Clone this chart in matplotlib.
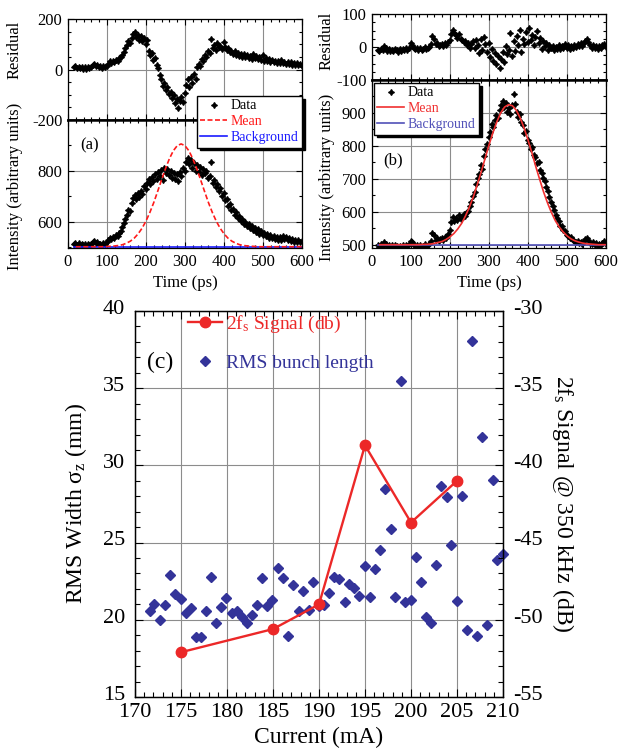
import numpy as np
import matplotlib.pyplot as plt
from matplotlib.ticker import MultipleLocator
from matplotlib.lines import Line2D
from matplotlib.transforms import ScaledTranslation

plt.rcParams['font.family'] = ['Liberation Serif', 'DejaVu Serif']
plt.rcParams['mathtext.fontset'] = 'custom'
plt.rcParams['mathtext.rm'] = 'Liberation Serif'
plt.rcParams['mathtext.default'] = 'regular'
plt.rcParams['axes.unicode_minus'] = False

# ---- streak camera profiles, panels (a) and (b) ----
t_data = np.arange(15, 600, 4)      # ps
t_mean = np.arange(20, 601, 10)     # ps

data_a = [
    512, 518, 510, 515, 509, 514, 507, 512, 506, 511,
    508, 513, 519, 523, 516, 520, 511, 514, 509, 516,
    512, 520, 527, 538, 533, 541, 536, 548, 544, 556,
    565, 579, 594, 611, 628, 646, 641, 672, 695, 706,
    690, 712, 699, 722, 708, 741, 728, 752, 769, 748,
    776, 761, 789, 770, 795, 780, 803, 766, 812, 790,
    808, 783, 799, 771, 792, 768, 786, 762, 795, 779,
    812, 798, 835, 851, 826, 842, 812, 830, 801, 822,
    796, 815, 785, 806, 790, 798, 772, 781, 836, 752,
    763, 738, 747, 720, 731, 703, 712, 684, 690, 662,
    668, 646, 652, 628, 637, 615, 624, 603, 611, 592,
    600, 584, 591, 574, 582, 566, 575, 558, 570, 552,
    563, 548, 557, 544, 553, 538, 549, 535, 546, 533,
    542, 530, 539, 528, 546, 531, 540, 527, 536, 524,
    533, 522, 530, 520, 528, 519, 524]
res_a = [
    8, 14, 6, 11, 4, 10, 3, 9, 2, 8,
    5, 11, 17, 21, 14, 18, 9, 12, 6, 13,
    9, 15, 22, 33, 27, 34, 29, 38, 33, 44,
    49, 58, 71, 86, 98, 112, 104, 126, 141, 150,
    128, 137, 118, 131, 112, 124, 101, 118, 72, 58,
    66, 38, 47, 18, 5, -22, -38, -65, -52, -80,
    -71, -96, -88, -112, -101, -133, -118, -152, -124, -109,
    -128, -92, -62, -38, -71, -29, -52, -18, -36, 8,
    22, 15, 41, 33, 58, 49, 73, 66, 122, 84,
    97, 78, 104, 89, 95, 82, 110, 91, 78, 86,
    69, 75, 61, 72, 58, 66, 54, 63, 51, 60,
    48, 57, 46, 55, 43, 62, 45, 52, 40, 49,
    38, 56, 35, 44, 32, 41, 30, 37, 28, 35,
    26, 34, 24, 38, 27, 31, 22, 30, 21, 28,
    19, 26, 18, 24, 16, 23, 14]
mean_a = [
    502, 502, 502, 502, 502, 502, 502, 502,
    503, 504, 505, 507, 510, 516, 524, 536, 553, 575,
    603, 637, 676, 720, 765, 809, 848, 879, 899, 906,
    899, 879, 848, 809, 765, 720, 676, 637, 603, 575,
    553, 536, 524, 516, 510, 507, 505, 504, 503,
    502, 502, 502, 502, 502, 502, 502, 502, 502, 502, 502, 502]
bg_a = 501

data_b = [
    498, 494, 501, 496, 507, 503, 495, 499, 493, 498,
    494, 500, 495, 492, 497, 493, 499, 494, 498, 495,
    501, 512, 508, 499, 495, 500, 494, 498, 493, 497,
    501, 496, 499, 503, 511, 537, 528, 514, 519, 510,
    516, 521, 513, 524, 519, 531, 545, 568, 584, 572,
    580, 575, 589, 578, 584, 592, 586, 598, 603, 618,
    629, 647, 660, 684, 702, 714, 741, 729, 768, 790,
    806, 828, 842, 866, 857, 879, 893, 884, 908, 925,
    937, 918, 931, 902, 914, 896, 924, 958, 927, 903,
    889, 896, 871, 862, 839, 846, 818, 809, 791, 798,
    772, 765, 748, 751, 727, 718, 704, 693, 674, 662,
    644, 631, 618, 604, 589, 580, 571, 558, 556, 545,
    541, 530, 527, 519, 523, 514, 511, 507, 512, 505,
    509, 503, 511, 517, 521, 514, 506, 502, 508, 499,
    504, 497, 503, 498, 506, 512, 501]
res_b = [
    -8, -12, -5, -9, 2, -4, -11, -7, -13, -8,
    -11, -6, -10, -14, -7, -11, -5, -9, -4, -8,
    -2, 12, 7, -3, -7, -2, -8, -4, -9, -5,
    -1, -6, -3, 1, 8, 34, 23, 8, 12, 2,
    6, 10, 3, 11, 5, 14, 22, 38, 52, 41,
    36, 28, 39, 24, 21, 14, 19, 6, 12, -2,
    9, 17, -4, 22, 5, -18, 24, -10, 31, 8,
    -14, 12, -31, -6, -42, -18, -52, -27, -63, -35,
    -15, -44, 3, -22, -8, 41, -28, 18, -12, 33,
    6, 52, -16, 25, 9, 44, 14, 58, 21, 37,
    6, 29, 48, 12, 26, -6, 18, 2, 11, -8,
    7, -3, 4, -9, 1, -5, 6, -7, 3, -4,
    8, -2, 5, -6, 4, -3, 7, -1, 9, 2,
    11, 4, 13, 18, 24, 15, 6, -2, 5, -4,
    3, -5, 2, -3, 6, 9, 1]
mean_b = [
    500, 500, 500, 500, 500, 500, 500, 500,
    500, 500, 500, 501, 501, 502, 504, 507, 510, 516,
    524, 534, 548, 565, 588, 615, 646, 683, 721, 762,
    803, 840, 873, 900, 918, 925, 922, 908, 885, 854,
    818, 779, 737, 698, 660, 627, 598, 573, 554, 539,
    527, 518, 512, 508, 505, 503, 502, 501, 500, 500, 500]
bg_b = 500

# ---- panel (c) ----
current_rms = [171.6, 172.1, 172.7, 173.3, 173.8, 174.4, 175.0, 175.5, 176.1, 176.6,
               177.2, 177.7, 178.3, 178.8, 179.4, 179.9, 180.5, 181.1, 181.6, 182.2,
               182.7, 183.3, 183.8, 184.4, 184.9, 185.5, 186.1, 186.6, 187.2, 187.8,
               188.3, 188.9, 189.4, 190.0, 190.5, 191.1, 191.6, 192.2, 192.8, 193.3,
               193.8, 194.4, 195.0, 195.5, 196.1, 196.6, 197.2, 197.8, 198.3, 198.9,
               199.4, 200.0, 200.5, 201.1, 201.6, 202.2, 202.7, 203.3, 203.9, 204.4,
               205.0, 205.5, 206.1, 206.6, 207.2, 207.7, 208.3, 208.9, 209.4, 210.0]
rms_width = [20.55, 21.02, 19.99, 20.95, 22.91, 21.69, 21.34, 20.42, 20.74, 18.91,
             18.91, 20.59, 22.80, 19.79, 20.85, 21.38, 20.44, 20.59, 20.20, 19.77,
             20.33, 20.98, 22.70, 20.87, 21.30, 23.38, 22.70, 18.93, 22.24, 20.55,
             21.84, 20.63, 22.42, 20.90, 20.95, 21.73, 22.80, 22.63, 21.17, 22.31,
             22.09, 21.56, 23.49, 21.45, 23.32, 24.50, 28.50, 25.86, 21.45, 35.49,
             21.17, 21.30, 24.07, 22.48, 20.20, 19.77, 23.56, 28.65, 27.94, 24.85,
             21.19, 28.05, 19.36, 38.07, 18.93, 31.81, 19.69, 29.04, 23.86, 24.29]
current_sig = [175, 185, 190, 195, 200, 205]
signal_db = [-52.1, -50.6, -49.0, -38.7, -43.7, -41.0]

W, H = 618, 748
fig = plt.figure(figsize=(W / 100, H / 100), dpi=100)


def box(l, t, r, b):
    return [l / W, 1 - b / H, (r - l) / W, (b - t) / H]


grid_kw = dict(color='#8c8c8c', lw=0.8)
star = (4, 1, 0)
mk = dict(ls='none', marker=star, ms=4.3, color='k', mew=0.9)


def style_top(ax, size=12):
    ax.set_xlim(0, 600)
    ax.xaxis.set_major_locator(MultipleLocator(100))
    ax.xaxis.set_minor_locator(MultipleLocator(20))
    ax.tick_params(which='both', direction='in', top=True, right=True,
                   labelsize=size, width=0.8, pad=4)
    ax.tick_params(which='major', length=4.5)
    ax.tick_params(which='minor', length=2.5)
    ax.grid(True, which='major', **grid_kw)
    ax.set_axisbelow(True)
    for s in ax.spines.values():
        s.set_linewidth(0.9)


panels = [
    dict(res=res_a, data=data_a, mean=mean_a, bg=bg_a, x0=68, x1=302, ysplit=120,
         ytop=19, rlim=200, rminor=50, ilim=(497, 1000), iticks=[600, 800], iminor=100,
         mean_ls=(0, (3, 1.5)), mean_c='#ff1a1a', bg_c='#1a1aff', tag='(a)',
         tag_xy=(90, 145), leg_xy=(197, 96), lab_x=15, res_y=50, int_y=186),
    dict(res=res_b, data=data_b, mean=mean_b, bg=bg_b, x0=372, x1=606, ysplit=80,
         ytop=14, rlim=100, rminor=25, ilim=(490, 1000), iticks=[500, 600, 700, 800, 900],
         iminor=50, mean_ls='-', mean_c='#f03030', bg_c='#5050b8', tag='(b)',
         tag_xy=(393, 160), leg_xy=(374, 83), lab_x=327, res_y=41, int_y=177),
]

for p in panels:
    ax_r = fig.add_axes(box(p['x0'], p['ytop'], p['x1'], p['ysplit']))
    ax_i = fig.add_axes(box(p['x0'], p['ysplit'], p['x1'], 248))

    ax_r.plot(t_data, p['res'], **mk)
    ax_r.set_ylim(-p['rlim'], p['rlim'])
    ax_r.set_yticks([-p['rlim'], 0, p['rlim']])
    ax_r.yaxis.set_minor_locator(MultipleLocator(p['rminor']))
    style_top(ax_r)
    ax_r.tick_params(labelbottom=False)
    ax_r.spines['bottom'].set_linewidth(1.8)

    hd, = ax_i.plot(t_data, p['data'], **mk)
    hb, = ax_i.plot(t_data[[0, -1]], [p['bg'], p['bg']], color=p['bg_c'], lw=1.2)
    hm, = ax_i.plot(t_mean, p['mean'], ls=p['mean_ls'], color=p['mean_c'], lw=1.2)
    ax_i.set_ylim(*p['ilim'])
    ax_i.set_yticks(p['iticks'])
    ax_i.yaxis.set_minor_locator(MultipleLocator(p['iminor']))
    style_top(ax_i)
    ax_i.spines['top'].set_linewidth(1.8)

    xc = (p['x0'] + p['x1']) / 2
    fig.text(xc / W, 1 - 283 / H, 'Time (ps)', ha='center', va='center', fontsize=12)
    fig.text(p['lab_x'] / W, 1 - p['res_y'] / H, 'Residual', rotation=90,
             ha='center', va='center', fontsize=12)
    fig.text(p['lab_x'] / W, 1 - p['int_y'] / H, 'Intensity (arbitrary units)',
             rotation=90, ha='center', va='center', fontsize=12)
    fig.text(p['tag_xy'][0] / W, 1 - p['tag_xy'][1] / H, p['tag'],
             ha='center', va='center', fontsize=12)

    leg = fig.legend([hd, hm, hb], ['Data', 'Mean', 'Background'], loc='upper left',
                     bbox_to_anchor=(p['leg_xy'][0] / W, 1 - p['leg_xy'][1] / H),
                     fontsize=10, fancybox=False, edgecolor='k', framealpha=1,
                     shadow={'color': 'k', 'alpha': 1}, borderpad=0.25,
                     labelspacing=0.2, handlelength=1.9, handletextpad=0.3,
                     borderaxespad=0, labelcolor=['k', p['mean_c'], p['bg_c']])
    leg.get_frame().set_linewidth(1.0)

# ---- panel (c) ----
red = '#ec2828'
blue = '#333399'
ax = fig.add_axes(box(135, 311, 503, 697))
ax.plot(current_rms, rms_width, ls='none', marker='D', ms=5.5, color=blue, clip_on=False)
ax.set_xlim(170, 210)
ax.set_ylim(15, 40)
ax.xaxis.set_major_locator(MultipleLocator(5))
ax.xaxis.set_minor_locator(MultipleLocator(1))
ax.yaxis.set_major_locator(MultipleLocator(5))
ax.yaxis.set_minor_locator(MultipleLocator(1))
ax.grid(True, which='major', **grid_kw)
ax.set_axisbelow(True)
ax.tick_params(which='both', direction='in', top=True, right=False, labelsize=16, width=0.8)
ax.tick_params(axis='y', pad=7)
ax.tick_params(axis='x', pad=4)
ax.tick_params(which='major', length=6)
ax.tick_params(which='minor', length=3.5)

ax2 = ax.twinx()
ax2.plot(current_sig, signal_db, color=red, lw=1.7, marker='o', ms=7.5)
ax2.set_ylim(-55, -30)
ax2.yaxis.set_major_locator(MultipleLocator(5))
ax2.yaxis.set_minor_locator(MultipleLocator(1))
ax2.tick_params(which='both', direction='in', labelsize=16, width=0.8, pad=7)
ax2.tick_params(which='major', length=6)
ax2.tick_params(which='minor', length=3.5)
for a in (ax, ax2):
    for s in a.spines.values():
        s.set_linewidth(0.9)

# y tick labels sit a little above their ticks in the original
lift = ScaledTranslation(0, 3 / 72, fig.dpi_scale_trans)
for a in (ax, ax2):
    for lab in a.get_yticklabels():
        lab.set_transform(lab.get_transform() + lift)

fig.text(76 / W, 1 - 504 / H, r'RMS Width σ$_z$ (mm)', rotation=90,
         ha='center', va='center', fontsize=17)
fig.text(563 / W, 1 - 504 / H, r'2f$_s$ Signal @ 350 kHz (dB)', rotation=270,
         ha='center', va='center', fontsize=17)
fig.text(319 / W, 1 - 737 / H, 'Current (mA)', ha='center', va='center', fontsize=17)
fig.text(160 / W, 1 - 362 / H, '(c)', ha='center', va='center', fontsize=17)

hs = Line2D([], [], color=red, lw=1.7, marker='o', ms=7.5)
hr = Line2D([], [], color=blue, ls='none', marker='D', ms=5.5)
fig.legend([hs, hr], [r'2f$_s$ Signal (db)', 'RMS bunch length'], loc='upper left',
           bbox_to_anchor=(188 / W, 1 - 314 / H), frameon=False, fontsize=14,
           handlelength=1.75, handletextpad=0.2, borderpad=0, borderaxespad=0,
           labelspacing=1.0, labelcolor=[red, blue])

fig.savefig('out.png', dpi=100)
